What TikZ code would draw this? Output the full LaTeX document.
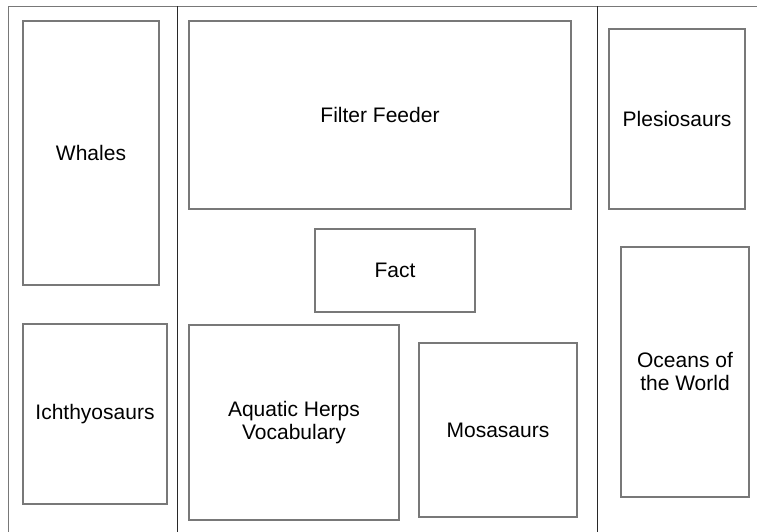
\documentclass[tikz,border=0pt]{standalone}
\usepackage{fontspec}
\setmainfont{Liberation Sans}
\usetikzlibrary{positioning}
\definecolor{framegray}{RGB}{120,120,120}
\definecolor{rulegray}{RGB}{40,40,40}
\tikzset{
    panel/.style={draw=framegray, line width=1.3pt, align=center, inner sep=0pt,
        font=\fontsize{21}{23}\selectfont},
    divider/.style={draw=rulegray, line width=1pt}
}
\begin{document}
\begin{tikzpicture}[x=1pt, y=-1pt]
        \useasboundingbox (0,0) rectangle (757,532);
        % frame
        \draw[framegray, line width=1.3pt] (8.5,532) -- (8.5,6.5) -- (757,6.5);
        \coordinate (ltop) at (177,6.5);
        \coordinate (lbot) at (177,532);
        \coordinate (rtop) at (597,6.5);
        \coordinate (rbot) at (597,532);
        \draw[divider] (ltop) -- (lbot);
        \draw[divider] (rtop) -- (rbot);

        % left column
        \node[panel, minimum width=136pt, minimum height=264pt] (whales) at (91,153) {Whales};
        \node[panel, minimum width=144pt, minimum height=180pt] (ichthyo) at (95,414) {Ichthyosaurs};

        % middle column
        \node[panel, minimum width=382pt, minimum height=188pt] (filter) at (380,115) {Filter Feeder};
        \node[panel, minimum width=160pt, minimum height=83pt] (fact) at (395,270.5) {Fact};
        \node[panel, minimum width=210pt, minimum height=195pt] (herps) at (294,422.5) {Aquatic Herps\\Vocabulary};
        \node[panel, minimum width=158pt, minimum height=174pt] (mosa) at (498,430) {Mosasaurs};

        % right column
        \node[panel, minimum width=136pt, minimum height=180pt] (plesio) at (677,119) {Plesiosaurs};
        \node[panel, minimum width=128pt, minimum height=250pt] (oceans) at (685,372) {Oceans of\\the World};
\end{tikzpicture}
\end{document}
